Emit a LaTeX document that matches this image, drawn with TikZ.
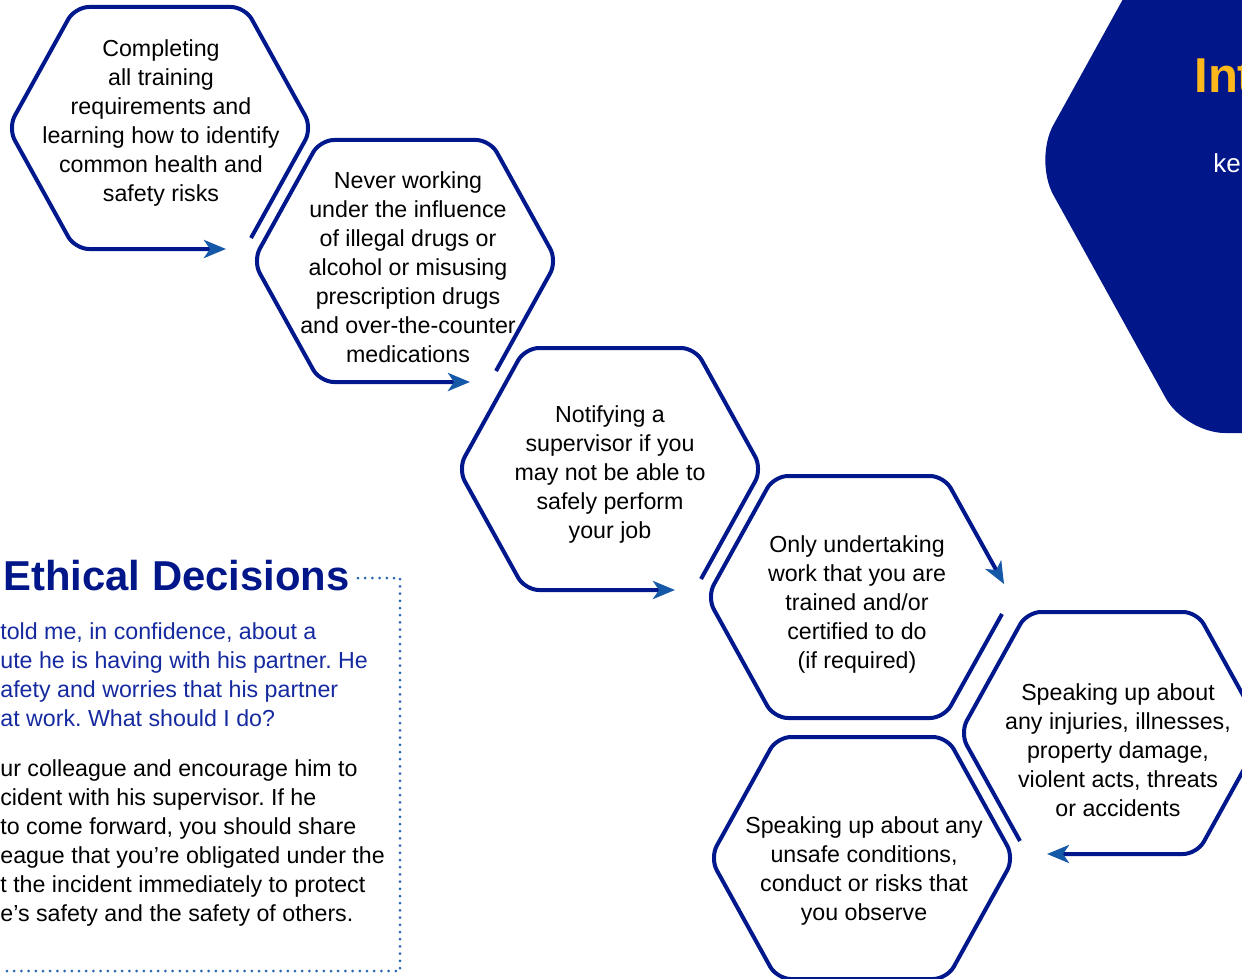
\documentclass[tikz,border=0pt]{standalone}
\usepackage{fontspec}
\setmainfont{Liberation Sans}
\usetikzlibrary{arrows.meta}
\definecolor{hexblue}{RGB}{0,24,140}
\definecolor{tipblue}{RGB}{22,88,168}
\definecolor{navyfill}{RGB}{0,22,137}
\definecolor{askblue}{RGB}{22,42,160}
\definecolor{dotblue}{RGB}{40,100,180}
\definecolor{introorange}{RGB}{255,184,28}
\frenchspacing
\begin{document}
\begin{tikzpicture}[x=0.5pt,y=-0.5pt,
  hexline/.style={draw=hexblue,line width=2pt,rounded corners=7pt},
  hexarrow/.style={hexline,-{Stealth[length=11pt,width=9pt,inset=3pt,color=tipblue]}},
  hextext/.style={align=center,inner sep=0pt,font=\fontsize{11.6pt}{14.5pt}\selectfont},
  boxtext/.style={anchor=north west,align=left,inner sep=0pt,font=\fontsize{11.6pt}{14.5pt}\selectfont}]
 \useasboundingbox (0,0) rectangle (1242,979);
 \clip (0,0) rectangle (1242,979);
 \fill[navyfill,rounded corners=20pt](1185,-113)--(1034,160)--(1185,433)--(1300,433)--(1300,-113)--cycle;
 \node[anchor=base west,inner sep=0pt,text=introorange,font=\fontsize{24.5pt}{28pt}\selectfont\bfseries] (intro) at (1194,93) {Int};
 \node[anchor=base west,inner sep=0pt,text=white,font=\fontsize{13pt}{16pt}\selectfont] (introtext) at (1213,172) {ke};

 \draw[hexarrow](251,238)--(312,128)--(245,7)--(75,7)--(8,128)--(75,249)--(226,249);
 \draw[hexarrow](496,371)--(557,261)--(490,140)--(320,140)--(253,261)--(320,382)--(470,382);
 \draw[hexarrow](701,579)--(762,469)--(695,348)--(525,348)--(458,469)--(525,590)--(675,590);
 \draw[hexarrow](1002,614)--(944,718)--(774,718)--(707,597)--(774,476)--(944,476)--(1004,584);
 \draw[hexarrow](1020,841)--(960,733)--(1027,612)--(1197,612)--(1264,733)--(1197,854)--(1047,854);
 \draw[hexline](777,737)--(947,737)--(1014,858)--(947,979)--(777,979)--(710,858)--cycle;

 \node[hextext] (training) at (161,123) {Completing\\all training\\requirements and\\learning how to identify\\common health and\\safety risks};
 \node[hextext] (drugs) at (408,267) {Never working\\under the influence\\of illegal drugs or\\alcohol or misusing\\prescription drugs\\and over-the-counter\\medications};
 \node[hextext] (notify) at (610,474) {Notifying a\\supervisor if you\\may not be able to\\safely perform\\your job};
 \node[hextext] (work) at (857,604) {Only undertaking\\work that you are\\trained and/or\\certified to do\\(if required)};
 \node[hextext] (injuries) at (1118,750) {Speaking up about\\any injuries, illnesses,\\property damage,\\violent acts, threats\\or accidents};
 \node[hextext] (unsafe) at (864,871) {Speaking up about any\\unsafe conditions,\\conduct or risks that\\you observe};

 \node[anchor=base west,inner sep=0pt,text=navyfill,font=\fontsize{20.9pt}{24pt}\selectfont\bfseries] (ethics) at (3,590) {Ethical Decisions};
 \draw[dotblue,line width=1.5pt,line cap=round,dash pattern=on 0pt off 3.6pt](358,578)--(400,578)--(400,971)--(0,971);
 \node[boxtext,text=askblue] (question) at (0,622) {told me, in confidence, about a\\ute he is having with his partner. He\\afety and worries that his partner\\at work. What should I do?};
 \node[boxtext] (answer) at (0,759) {ur colleague and encourage him to\\cident with his supervisor. If he\\to come forward, you should share\\eague that you’re obligated under the\\t the incident immediately to protect\\e’s safety and the safety of others.};
\end{tikzpicture}
\end{document}
